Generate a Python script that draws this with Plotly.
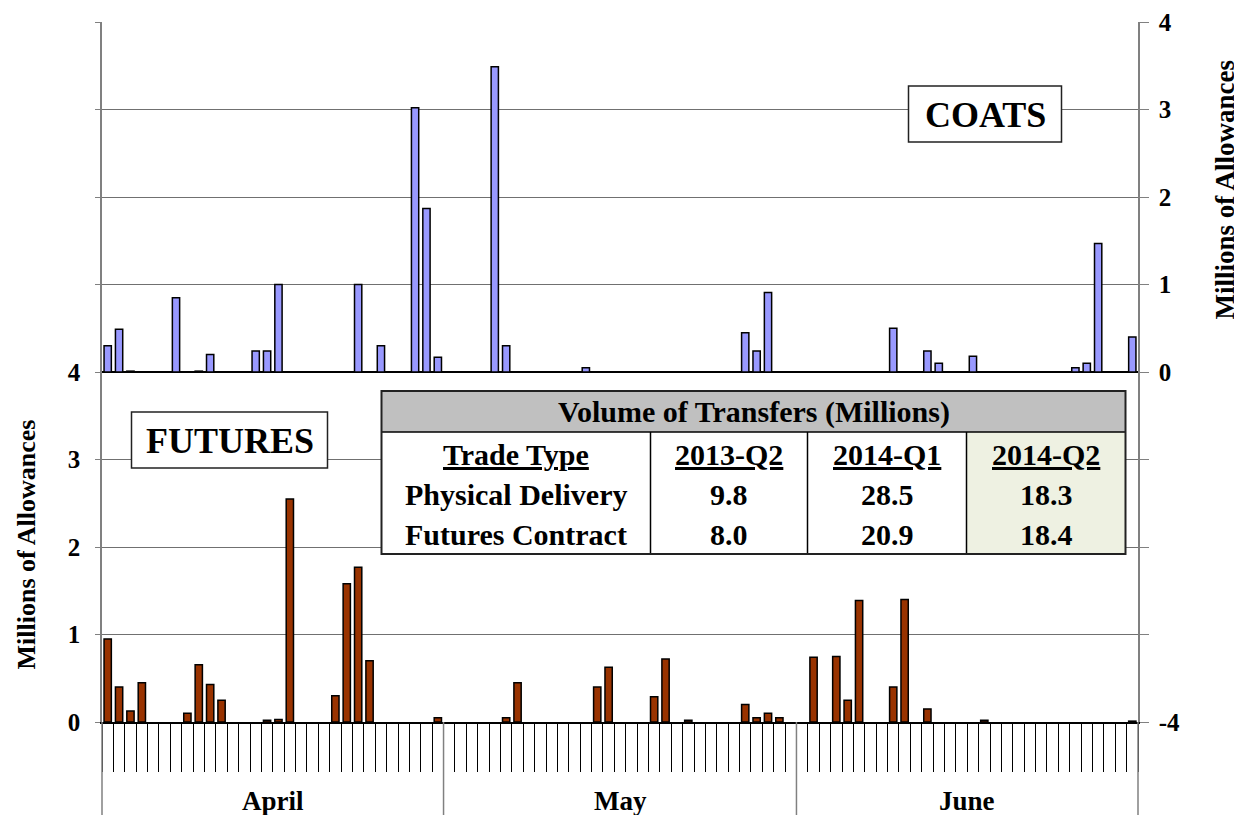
import plotly.graph_objects as go

# ---------------- data ----------------
months = ["April", "May", "June"]
month_days = [30, 31, 30]

# day index (0 = April 1) and volumes in millions of allowances
coats_days = [0, 1, 2, 6, 8, 9, 13, 14, 15, 22, 24, 27, 28, 29, 34, 35, 42,
              56, 57, 58, 69, 72, 73, 76, 85, 86, 87, 90]
coats_vals = [0.30, 0.49, 0.01, 0.85, 0.01, 0.20, 0.24, 0.24, 1.00, 1.00, 0.30,
              3.02, 1.87, 0.17, 3.49, 0.30, 0.05, 0.45, 0.24, 0.91, 0.50, 0.24,
              0.10, 0.18, 0.05, 0.10, 1.47, 0.40]

futures_days = [0, 1, 2, 3, 7, 8, 9, 10, 14, 15, 16, 20, 21, 22, 23, 29, 35, 36,
                43, 44, 48, 49, 51, 56, 57, 58, 59, 62, 64, 65, 66, 69, 70, 72, 77, 90]
futures_vals = [0.95, 0.40, 0.125, 0.45, 0.10, 0.655, 0.43, 0.25, 0.02, 0.03, 2.55,
                0.30, 1.58, 1.77, 0.70, 0.05, 0.05, 0.45, 0.40, 0.625, 0.29, 0.72,
                0.02, 0.20, 0.05, 0.10, 0.05, 0.74, 0.75, 0.25, 1.39, 0.40, 1.40,
                0.15, 0.02, 0.01]

left_ticks = [0, 1, 2, 3, 4, 5, 6, 7, 8]
left_ticktext = ["0", "1", "2", "3", "4", "", "", "", ""]
right_ticks = [-4, -3, -2, -1, 0, 1, 2, 3, 4]
right_ticktext = ["-4", "", "", "", "0", "1", "2", "3", "4"]

table_title = "Volume of Transfers (Millions)"
table_cols = ["Trade Type", "2013-Q2", "2014-Q1", "2014-Q2"]
trade_types = ["Physical Delivery", "Futures Contract"]
vol_2013q2 = ["9.8", "8.0"]
vol_2014q1 = ["28.5", "20.9"]
vol_2014q2 = ["18.3", "18.4"]

# ---------------- layout constants ----------------
OFF = 8                       # page body margin of the html page
REF_L, REF_T = 101.5, 22      # plot-area top-left in the final picture
PW, PH = 1036, 700
W, H = 1242 - OFF, 815 - OFF
ML = int(round(REF_L - OFF))
MT = REF_T - OFF
MR = W - ML - PW
MB = H - MT - PH
FONT = "Liberation Serif, Times New Roman, serif"
n_days = sum(month_days)


def px(p):
    return (p - REF_L) / PW


def py(p):
    return (REF_T + PH - p) / PH


def note(x, y, text, size, angle=0):
    return dict(x=x, y=y, xref="paper", yref="paper", text=text, showarrow=False,
                xanchor="center", yanchor="middle", textangle=angle,
                font=dict(family=FONT, size=size, color="black"))


fig = go.Figure()

fig.add_trace(go.Bar(
    x=futures_days, y=futures_vals, yaxis="y", width=0.64,
    marker=dict(color="#993300", line=dict(color="black", width=1.5)),
    name="Futures", showlegend=False, hoverinfo="x+y"))

fig.add_trace(go.Bar(
    x=coats_days, y=coats_vals, yaxis="y2", width=0.64, base=0,
    marker=dict(color="#9999ff", line=dict(color="black", width=1.5)),
    name="COATS", showlegend=False, hoverinfo="x+y"))

shapes = []
annotations = []

# month separators and labels below the axis
start = 0
bounds = [0]
for d in month_days:
    start += d
    bounds.append(start)
for b in bounds:
    shapes.append(dict(type="line", xref="paper", yref="paper",
                       x0=b / n_days, x1=b / n_days, y0=0, y1=-MB / PH,
                       line=dict(color="#808080", width=1.5)))
for i, m in enumerate(months):
    mid = (bounds[i] + bounds[i + 1]) / 2 / n_days
    annotations.append(note(mid, py(801), f"<b>{m}</b>", 27))

# axis titles
annotations.append(note(px(25), py(545), "<b>Millions of Allowances</b>", 26, -90))
annotations.append(note(px(1224), py(190), "<b>Millions of Allowances</b>", 27, -90))

# COATS / FUTURES boxes
for label, (x0, x1, y0, y1) in [("COATS", (908, 1061, 86, 142)),
                                ("FUTURES", (131, 327, 412, 468))]:
    shapes.append(dict(type="rect", xref="paper", yref="paper", layer="above",
                       x0=px(x0), x1=px(x1), y0=py(y1), y1=py(y0),
                       fillcolor="white", line=dict(color="#222222", width=1.5)))
    annotations.append(note(px((x0 + x1) / 2), py((y0 + y1) / 2 + 1),
                            f"<b>{label}</b>", 36))

# summary table
TX0, TX1, TY0, TY1 = 381, 1125, 391, 554
HDR_B = 432
col_edges = [381, 650, 807, 966, 1125]
shapes.append(dict(type="rect", xref="paper", yref="paper", layer="above",
                   x0=px(TX0), x1=px(TX1), y0=py(TY1), y1=py(TY0),
                   fillcolor="white", line=dict(width=0)))
shapes.append(dict(type="rect", xref="paper", yref="paper", layer="above",
                   x0=px(TX0), x1=px(TX1), y0=py(HDR_B), y1=py(TY0),
                   fillcolor="#c0c0c0", line=dict(width=0)))
shapes.append(dict(type="rect", xref="paper", yref="paper", layer="above",
                   x0=px(col_edges[3]), x1=px(col_edges[4]), y0=py(TY1), y1=py(HDR_B),
                   fillcolor="#eef1e2", line=dict(width=0)))
for ce in col_edges[1:4]:
    shapes.append(dict(type="line", xref="paper", yref="paper", layer="above",
                       x0=px(ce), x1=px(ce), y0=py(TY1), y1=py(HDR_B),
                       line=dict(color="black", width=1.5)))
shapes.append(dict(type="line", xref="paper", yref="paper", layer="above",
                   x0=px(TX0), x1=px(TX1), y0=py(HDR_B), y1=py(HDR_B),
                   line=dict(color="black", width=1.5)))
shapes.append(dict(type="rect", xref="paper", yref="paper", layer="above",
                   x0=px(TX0), x1=px(TX1), y0=py(TY1), y1=py(TY0),
                   line=dict(color="#222222", width=2)))

TS = 30
annotations.append(note(px((TX0 + TX1) / 2), py(412), f"<b>{table_title}</b>", TS))
row_y = [454, 494, 534]
centers = [(col_edges[i] + col_edges[i + 1]) / 2 for i in range(4)]
for c, t in zip(centers, table_cols):
    annotations.append(note(px(c), py(row_y[0]), f"<b><u>{t}</u></b>", TS))
for r, (tt, a, b, c) in enumerate(zip(trade_types, vol_2013q2, vol_2014q1, vol_2014q2)):
    for ci, t in enumerate([tt, a, b, c]):
        annotations.append(note(px(centers[ci]), py(row_y[r + 1]), f"<b>{t}</b>", TS))

tick_font = dict(family=FONT, size=25, color="black")

fig.update_layout(
    width=W, height=H,
    margin=dict(l=ML, r=MR, t=MT, b=MB, pad=0, autoexpand=False),
    paper_bgcolor="white", plot_bgcolor="white",
    barmode="overlay", showlegend=False,
    xaxis=dict(range=[-0.5, n_days - 0.5], tickmode="array",
               tickvals=[i - 0.5 for i in range(n_days + 1)],
               ticktext=["" for _ in range(n_days + 1)],
               ticks="outside", ticklen=48, tickcolor="black", tickwidth=1,
               showgrid=False, zeroline=False, showline=True,
               linecolor="black", linewidth=1.5, showticklabels=False),
    yaxis=dict(range=[0, 8], tickmode="array", tickvals=left_ticks,
               ticktext=[f"<b>{t}</b>" for t in left_ticktext], ticks="outside",
               ticklen=5, ticklabelstandoff=10, tickcolor="#808080",
               showgrid=True, gridcolor="#707070",
               gridwidth=1.2, zeroline=False, showline=True,
               linecolor="#808080", linewidth=1.5, tickfont=tick_font),
    yaxis2=dict(range=[-4, 4], overlaying="y", side="right", tickmode="array",
                tickvals=right_ticks,
                ticktext=[f"<b>{t}</b>" for t in right_ticktext], ticks="outside",
                ticklen=9, ticklabelstandoff=5, tickcolor="#808080", showgrid=False,
                zeroline=True, zerolinecolor="black", zerolinewidth=1.5,
                showline=True, linecolor="#808080", linewidth=1.5,
                tickfont=tick_font),
    shapes=shapes, annotations=annotations,
)

fig.write_html("out.html")
